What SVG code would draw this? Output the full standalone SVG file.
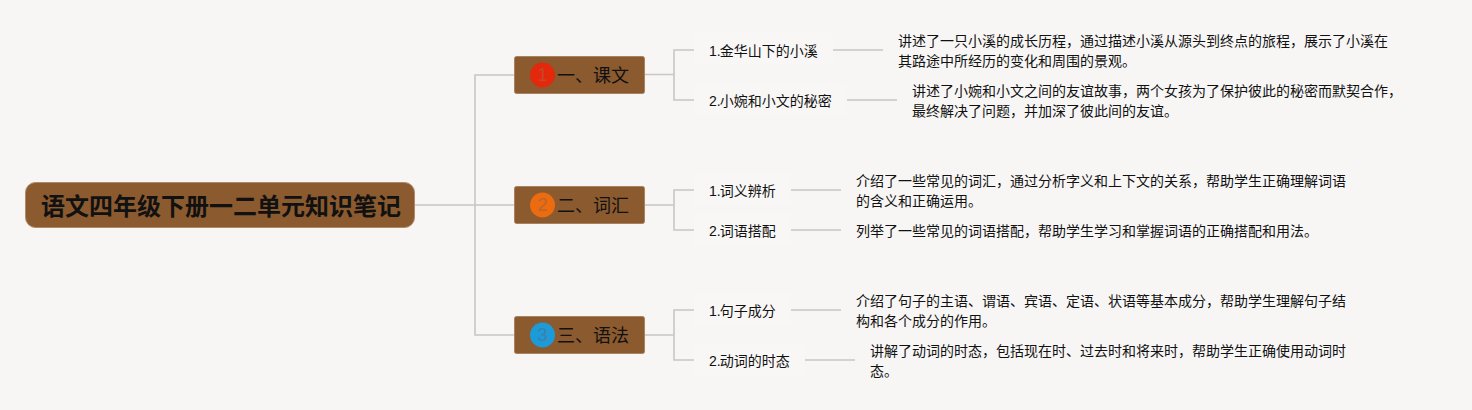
<svg xmlns="http://www.w3.org/2000/svg" width="1472" height="410" viewBox="0 0 1472 410">
<style>
text{font-family:"Liberation Sans","Noto Sans CJK SC",sans-serif;fill:#111}
.c{fill:none;stroke:#c9c6c4;stroke-width:1.6}
.root{fill:#8b5a2f;stroke:#b08a68;stroke-width:1}
.main{fill:#8b5a2f;stroke:#a9835f;stroke-width:1}
.rt{font-size:24px;font-weight:700}
.mt{font-size:18px}
.n{font-size:18px;text-anchor:middle}
.s{font-size:14px}
.d{font-size:14px}
.b{fill:#f8f7f6}
</style>
<rect width="1472" height="410" fill="#f7f6f5"/>
<g id="connectors">
<path class="c" d="M415 205H514M514 75H475V335H514"/>
<path class="c" d="M644 74.500H674M694 50H674V100H694M833 50H883M847 100H897"/>
<path class="c" d="M644 205H674M694 190H674V230H694M791 190H841M791 230H841"/>
<path class="c" d="M644 335H674M694 310H674V360H694M791 310H841M805 360H855"/>
</g>
<g id="root"><rect class="root" x="25.500" y="182.500" width="389" height="45" rx="10"/><text class="rt" x="41" y="215">语文四年级下册一二单元知识笔记</text></g>
<g id="n1"><rect class="main" x="514.500" y="56.500" width="130" height="37" rx="2"/><circle cx="542.500" cy="75" r="12.500" fill="#e3280c"/><text class="n" x="542.500" y="81" style="fill:#c9452c">1</text><text class="mt" x="557" y="82">一、课文</text></g>
<g id="n2"><rect class="main" x="514.500" y="186.500" width="130" height="37" rx="2"/><circle cx="542.500" cy="205" r="12.500" fill="#ec6a10"/><text class="n" x="542.500" y="211" style="fill:#b8682c">2</text><text class="mt" x="557" y="212">二、词汇</text></g>
<g id="n3"><rect class="main" x="514.500" y="316.500" width="130" height="37" rx="2"/><circle cx="542.500" cy="335" r="12.500" fill="#1d9ad8"/><text class="n" x="542.500" y="341" style="fill:#3f7fa8">3</text><text class="mt" x="557" y="342">三、语法</text></g>
<g id="s11"><rect class="b" x="694" y="33" width="139" height="31"/><text class="s" x="709" y="56">1.<tspan dx="-1">金华山下的小溪</tspan></text></g>
<g id="s12"><rect class="b" x="694" y="84" width="153" height="31"/><text class="s" x="709" y="106">2.<tspan dx="-1">小婉和小文的秘密</tspan></text></g>
<g id="s21"><rect class="b" x="694" y="174" width="97" height="31"/><text class="s" x="709" y="196">1.<tspan dx="-1">词义辨析</tspan></text></g>
<g id="s22"><rect class="b" x="694" y="214" width="97" height="31"/><text class="s" x="709" y="236">2.<tspan dx="-1">词语搭配</tspan></text></g>
<g id="s31"><rect class="b" x="694" y="294" width="97" height="31"/><text class="s" x="709" y="316">1.<tspan dx="-1">句子成分</tspan></text></g>
<g id="s32"><rect class="b" x="694" y="344" width="111" height="31"/><text class="s" x="709" y="366">2.<tspan dx="-1">动词的时态</tspan></text></g>
<g id="d11"><text class="d" x="898" y="46">讲述了一只小溪的成长历程，通过描述小溪从源头到终点的旅程，展示了小溪在</text><text class="d" x="898" y="66">其路途中所经历的变化和周围的景观。</text></g>
<g id="d12"><text class="d" x="912" y="96">讲述了小婉和小文之间的友谊故事，两个女孩为了保护彼此的秘密而默契合作，</text><text class="d" x="912" y="116">最终解决了问题，并加深了彼此间的友谊。</text></g>
<g id="d21"><text class="d" x="856" y="186">介绍了一些常见的词汇，通过分析字义和上下文的关系，帮助学生正确理解词语</text><text class="d" x="856" y="206">的含义和正确运用。</text></g>
<g id="d22"><text class="d" x="856" y="236">列举了一些常见的词语搭配，帮助学生学习和掌握词语的正确搭配和用法。</text></g>
<g id="d31"><text class="d" x="856" y="306">介绍了句子的主语、谓语、宾语、定语、状语等基本成分，帮助学生理解句子结</text><text class="d" x="856" y="326">构和各个成分的作用。</text></g>
<g id="d32"><text class="d" x="870" y="356">讲解了动词的时态，包括现在时、过去时和将来时，帮助学生正确使用动词时</text><text class="d" x="870" y="376">态。</text></g>
</svg>
